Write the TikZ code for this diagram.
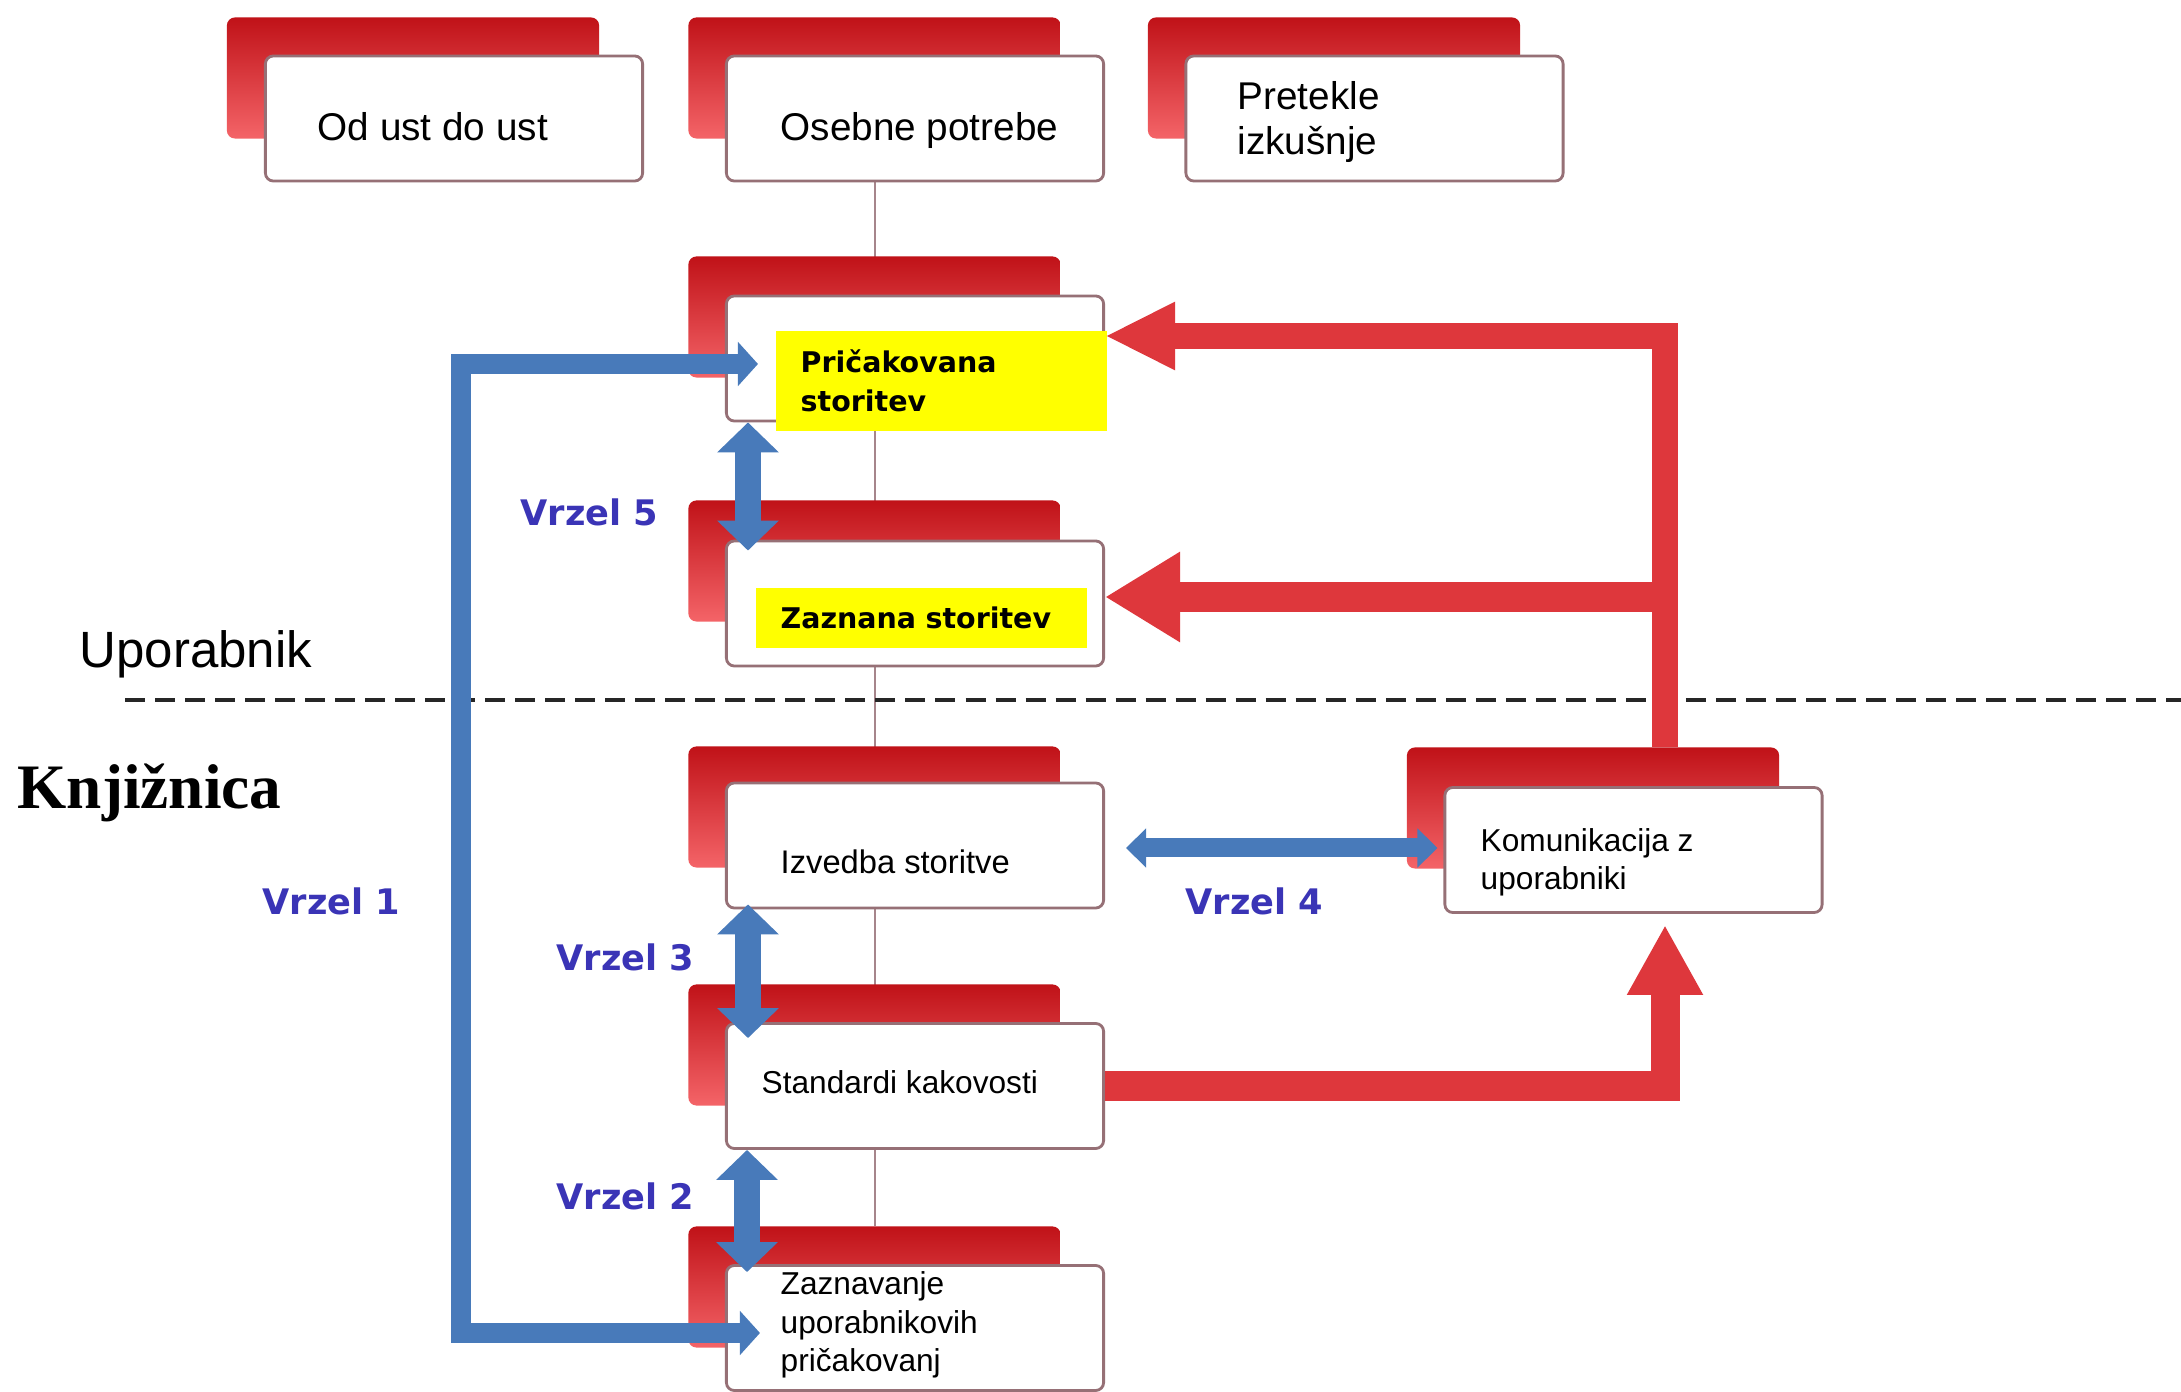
\documentclass[tikz,border=0pt]{standalone}
\usepackage{fontspec}
\setmainfont{Liberation Sans}
\newfontfamily\dvs{DejaVu Sans}
\newfontfamily\lserif{Liberation Serif}
\usetikzlibrary{arrows.meta,calc,backgrounds}
\definecolor{redtop}{RGB}{192,18,24}
\definecolor{redbot}{RGB}{244,100,104}
\definecolor{boxline}{RGB}{150,112,118}
\definecolor{arrred}{RGB}{222,55,60}
\definecolor{arrblue}{RGB}{72,122,186}
\definecolor{gaptext}{RGB}{58,52,182}
\definecolor{hl}{RGB}{255,255,0}
\begin{document}
\begin{tikzpicture}[x=0.01cm,y=-0.01cm,
  redback/.style={rectangle, rounded corners=0.08cm, top color=redtop, bottom color=redbot, minimum width=3.72cm, minimum height=1.21cm, inner sep=0pt},
  whitebox/.style={rectangle, rounded corners=0.08cm, fill=white, draw=boxline, line width=0.8pt, minimum width=3.77cm, minimum height=1.25cm, inner sep=0pt},
  lbl/.style={anchor=west, align=left, inner sep=0pt, font=\fontsize{11}{12.7}\selectfont},
  smalllbl/.style={anchor=west, align=left, inner sep=0pt, font=\fontsize{9}{10.9}\selectfont},
  hlbox/.style={fill=hl, anchor=west, align=left, inner xsep=0.25cm, inner ysep=0pt, text width=2.81cm, font=\dvs\bfseries\fontsize{8.1}{11}\selectfont},
  gaplbl/.style={anchor=west, inner sep=0pt, text=gaptext, font=\dvs\bfseries\fontsize{10}{12}\selectfont},
  redarrow/.style={draw=arrred, line width=0.26cm, line join=miter},
  bluedbl/.style={draw=arrblue, line width=0.26cm, {Triangle[width=0.6cm,length=0.3cm]}-{Triangle[width=0.6cm,length=0.3cm]}},
  stem/.style={draw=boxline!85, line width=0.02cm}
]
\useasboundingbox (0,0) rectangle (2181,1392);

% top row
\node[redback] (r1) at (413,78) {};
\node[whitebox] (w1) at (454,118.5) {};
\node[lbl, anchor=base west] (t1) at (317,141) {Od ust do ust};
\node[redback] (r2) at (874.5,78) {};
\node[whitebox] (w2) at (915,118.5) {};
\node[lbl, anchor=base west] (t2) at (780,141) {Osebne potrebe};
\node[redback] (r3) at (1334,78) {};
\node[whitebox] (w3) at (1374.5,118.5) {};
\node[lbl] (t3) at (1237,122) {Pretekle\\izkušnje};

% centre column
\node[redback] (r4) at (874.5,317) {};
\node[whitebox] (w4) at (915,358.5) {};
\node[hlbox, minimum height=1cm] (y4) at (775,381) {Pričakovana\\storitev};

\node[redback] (r5) at (874.5,561) {};
\node[whitebox] (w5) at (915,603.5) {};
\node[hlbox, minimum height=0.6cm] (y5) at (755,618) {Zaznana storitev};

\node[redback] (r6) at (874.5,807) {};
\node[whitebox] (w6) at (915,845.5) {};
\node[smalllbl, font=\fontsize{9.3}{11}\selectfont] (t6) at (780,862) {Izvedba storitve};

\node[redback] (r7) at (874.5,1045) {};
\node[whitebox] (w7) at (915,1086) {};
\node[smalllbl] (t7) at (761,1082) {Standardi kakovosti};

\node[redback] (r8) at (874.5,1287) {};
\node[whitebox] (w8) at (915,1328) {};
\node[smalllbl] (t8) at (780,1325) {Zaznavanje\\uporabnikovih\\pričakovanj};

% right box
\node[redback] (r9) at (1593,808) {};
\node[whitebox] (w9) at (1633.5,850) {};
\node[smalllbl] (t9) at (1480,862) {Komunikacija z\\uporabniki};

% side labels
\node[anchor=west, inner sep=0pt, font=\fontsize{14.5}{16}\selectfont] (upo) at (79,654) {Uporabnik};
\node[anchor=west, inner sep=0pt, font=\lserif\bfseries\fontsize{18}{20}\selectfont] (knj) at (17,793) {Knjižnica};
\node[gaplbl] (g1) at (262,901) {Vrzel 1};
\node[gaplbl] (g5) at (520,512) {Vrzel 5};
\node[gaplbl] (g3) at (556,957) {Vrzel 3};
\node[gaplbl] (g4) at (1185,901) {Vrzel 4};
\node[gaplbl] (g2) at (556,1196) {Vrzel 2};

% background: white, stem line, dashed border
\begin{scope}[on background layer]
  \fill[white] (0,0) rectangle (2181,1392);
  \coordinate (dl1) at (125,700);
  \coordinate (dl2) at (2181,700);
  \draw[stem] (r2.south |- w2.south) -- (r8.north);
  \draw[dash pattern=on 0.2cm off 0.1cm, line width=0.04cm, black!85] (dl1) -- (dl2);
\end{scope}

% red connectors
\coordinate (turnA) at (1665,336);
\coordinate (turnB) at (1665,597);
\coordinate (tipC) at ($(w9.south -| turnA)+(0,11)$);
\draw[redarrow, -{Triangle[width=0.63cm,length=0.7cm]}] (turnA |- r9.north) -- (turnA) -- (turnA -| w4.east);
\draw[redarrow, line width=0.3cm, -{Triangle[width=0.85cm,length=0.75cm]}] (turnB) -- (turnB -| w5.east);
\draw[redarrow, line width=0.29cm, -{Triangle[width=0.71cm,length=0.7cm]}] (w7.east) -| (tipC);

% blue connectors
\coordinate (v1top) at (461,364);
\coordinate (v1bot) at (461,1333);
\coordinate (v1tipA) at ($(w4.west |- v1top)+(33,0)$);
\coordinate (v1tipB) at ($(w8.west |- v1bot)+(35,0)$);
\draw[draw=arrblue, line width=0.2cm, line join=miter, {Triangle[width=0.43cm,length=0.2cm]}-{Triangle[width=0.43cm,length=0.2cm]}] (v1tipA) -- (v1top) -- (v1bot) -- (v1tipB);
\draw[bluedbl] ($(w4.south)+(-167,0)$) -- ($(w5.north)+(-167,11)$);
\draw[bluedbl] ($(w6.south)+(-167,-5)$) -- ($(w7.north)+(-167,16)$);
\draw[bluedbl] ($(w7.south)+(-168,0)$) -- ($(w8.north)+(-168,8)$);
\draw[draw=arrblue, line width=0.19cm, {Triangle[width=0.38cm,length=0.2cm]}-{Triangle[width=0.38cm,length=0.2cm]}] ($(w6.east)+(21,2.5)$) -- ($(w9.west)+(-6,-2)$);
\end{tikzpicture}
\end{document}
